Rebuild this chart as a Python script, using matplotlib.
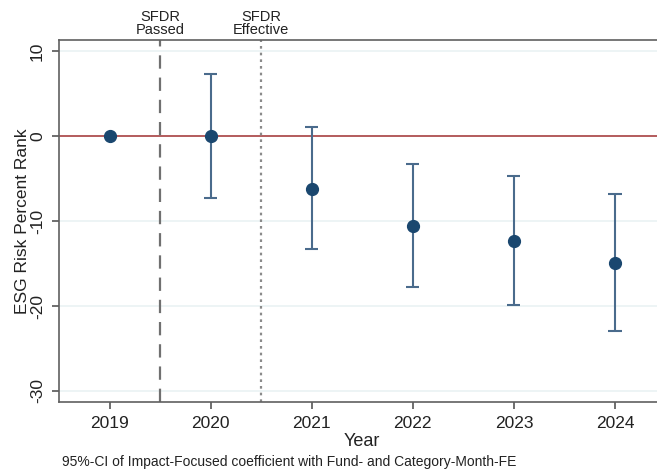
import matplotlib
matplotlib.use("Agg")
import matplotlib.pyplot as plt

plt.rcParams['font.family'] = ['Liberation Sans', 'DejaVu Sans']

# Event-study estimates: point and 95% CI bounds
years = [2019, 2020, 2021, 2022, 2023, 2024]
coef = [0.0, 0.0, -6.2, -10.6, -12.35, -14.95]
ci_low = [0.0, -7.3, -13.3, -17.8, -19.9, -22.9]
ci_high = [0.0, 7.3, 1.1, -3.3, -4.7, -6.8]
yticks = [10, 0, -10, -20, -30]

fig = plt.figure(figsize=(6.57, 4.74), dpi=100)
ax = fig.add_axes([59 / 657, 1 - 401.7 / 474, 606.5 / 657, 361.7 / 474])

for t in yticks:
    ax.axhline(t, color='#eaf2f3', lw=1.2, zorder=0)
ax.axhline(0, color='#b05050', lw=1.3, zorder=1)

ax.axvline(2019.5, color='#707070', lw=1.6, ls=(0, (6, 4)), zorder=1)
ax.axvline(2020.5, color='#8a8a8a', lw=1.6, ls=(0, (1.2, 1.8)), zorder=1)

# CI whiskers (skip the reference year with no interval)
for x, lo, hi in zip(years, ci_low, ci_high):
    if hi - lo > 0:
        ax.vlines(x, lo, hi, color='#4a6b8c', lw=1.5, zorder=2)
        ax.hlines([lo, hi], x - 0.065, x + 0.065, color='#4a6b8c', lw=1.5, zorder=2)
ax.plot(years, coef, 'o', color='#1a476f', ms=8.5, zorder=3)

ax.set_xlim(2018.5, 2024.5)
ax.set_ylim(-31.26, 11.3)
ax.set_xticks(years)
ax.set_yticks(yticks)
ax.set_yticklabels([str(t) for t in yticks], rotation=90, va='center')
ax.tick_params(axis='both', labelsize=12.5, colors='#555555', length=5, width=1.2,
               labelcolor='#222222', pad=5)
for s in ax.spines.values():
    s.set_color('#606060')
    s.set_linewidth(1.2)
ax.spines['right'].set_visible(False)

ax.set_xlabel('Year', fontsize=13, color='#222222', labelpad=2)
ax.set_ylabel('ESG Risk Percent Rank', fontsize=12.5, color='#222222', labelpad=0)

ax.text(2019.5, 11.6, 'SFDR\nPassed', ha='center', va='bottom', fontsize=10.5,
        color='#222222', linespacing=0.95)
ax.text(2020.5, 11.6, 'SFDR\nEffective', ha='center', va='bottom', fontsize=10.5,
        color='#222222', linespacing=0.95)

fig.text(62 / 657, 1 - 462 / 474, '95%-CI of Impact-Focused coefficient with Fund- and Category-Month-FE',
         fontsize=10, color='#222222', va='center')

fig.savefig('out.png', dpi=100)
